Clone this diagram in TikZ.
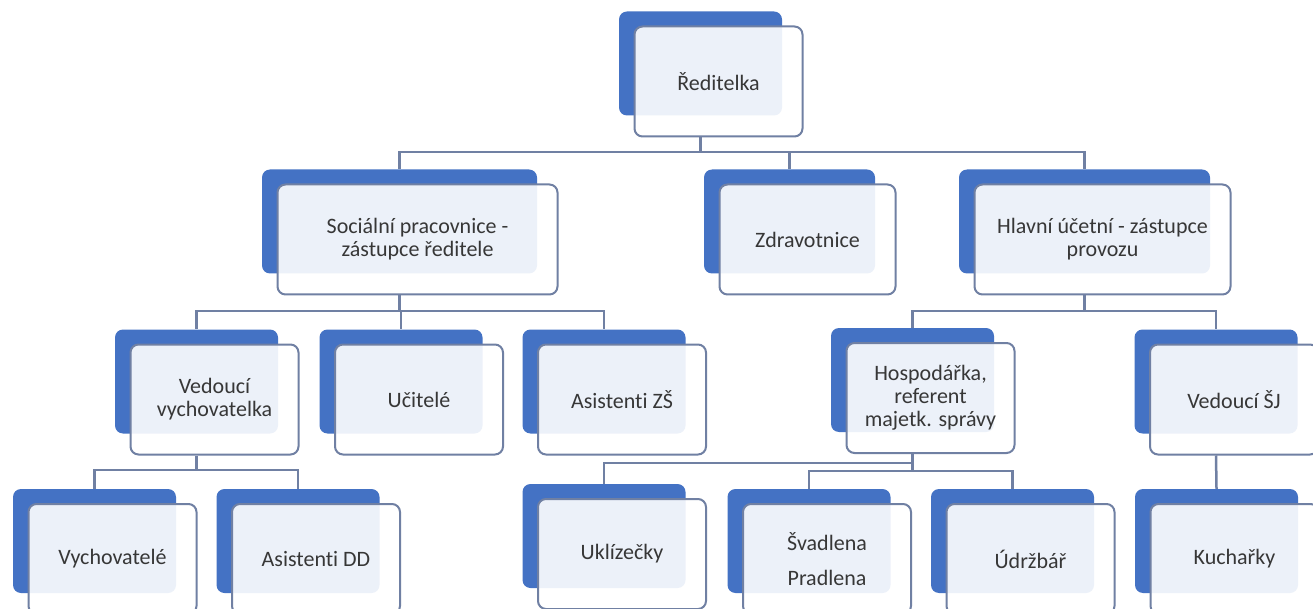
\documentclass[tikz,border=0pt]{standalone}
\usepackage{fontspec}
\setmainfont{Carlito}[Ligatures=NoCommon]
\usepackage{xcolor}
\usepackage{tikz}
\definecolor{orgblue}{RGB}{68,114,196}
\definecolor{orgline}{RGB}{112,128,163}
\definecolor{orgtext}{RGB}{55,55,55}
\tikzstyle{backbox} = [rectangle, rounded corners=8pt, minimum width=163pt, minimum height=104pt, inner sep=0pt, fill=orgblue]
\tikzstyle{frontbox} = [rectangle, rounded corners=8pt, minimum width=168pt, minimum height=110pt, inner sep=0pt, align=center, draw=orgline, line width=2pt, fill=white, fill opacity=0.9, text opacity=1, text=orgtext, font=\fontsize{22}{23}\selectfont, xshift=18pt, yshift=-18pt]
\tikzstyle{connector} = [draw=orgline, line width=2.5pt]

\begin{document}
\begin{tikzpicture}[x=1pt, y=-1pt]

\useasboundingbox (0,0) rectangle (1313,609);
\clip (0,0) rectangle (1313,609);
\fill [white] (0,0) rectangle (1313,609);

% top
\node (dir-b) [backbox] at (700.5,63.5) {};
\node (dir) [frontbox] at (dir-b) {Ředitelka};

% second row
\node (soc-b) [backbox, minimum width=275pt] at (399.5,221.5) {};
\node (soc) [frontbox, minimum width=280pt] at (soc-b) {Sociální pracovnice -\\zástupce ředitele};
\node (zdr-b) [backbox, minimum width=171pt] at (789.5,221.5) {};
\node (zdr) [frontbox, minimum width=176pt] at (zdr-b) {Zdravotnice};
\node (hla-b) [backbox, minimum width=251pt] at (1084.5,221.5) {};
\node (hla) [frontbox, minimum width=256pt] at (hla-b) {Hlavní účetní - zástupce\\provozu};

% third row
\node (ved-b) [backbox] at (196.5,381.5) {};
\node (ved) [frontbox] at (ved-b) {Vedoucí\\vychovatelka};
\node (uci-b) [backbox] at (401,381.5) {};
\node (uci) [frontbox] at (uci-b) {Učitelé};
\node (azs-b) [backbox] at (604,381.5) {};
\node (azs) [frontbox] at (azs-b) {Asistenti ZŠ};
\node (hos-b) [backbox] at (912.5,380) {};
\node (hos) [frontbox] at (hos-b) {Hospodářka,\\referent\\majetk. správy};
\node (sj-b) [backbox] at (1216,381.5) {};
\node (sj) [frontbox] at (sj-b) {Vedoucí ŠJ};

% bottom row
\node (vyc-b) [backbox] at (94.5,541) {};
\node (vyc) [frontbox] at (vyc-b) {Vychovatelé};
\node (add-b) [backbox] at (298,541) {};
\node (add) [frontbox] at (add-b) {Asistenti DD};
\node (ukl-b) [backbox] at (604,536) {};
\node (ukl) [frontbox] at (ukl-b) {Uklízečky};
\node (sva-b) [backbox] at (809,541) {};
\node (sva) [frontbox] at (sva-b) {Švadlena\\[12pt]Pradlena};
\node (udr-b) [backbox] at (1012.5,541) {};
\node (udr) [frontbox] at (udr-b) {Údržbář};
\node (kuc-b) [backbox] at (1216.5,541) {};
\node (kuc) [frontbox] at (kuc-b) {Kuchařky};

% bus lines
\coordinate (bus1) at (0,152);
\coordinate (bus2) at (0,311);
\coordinate (bus3) at (0,470);
\coordinate (bus4) at (0,463);
\coordinate (bus5) at (0,471);

\draw [connector] (dir.south -| dir-b) -- (dir-b |- bus1) -| (soc-b.north);
\draw [connector] (dir-b |- bus1) -| (zdr-b.north);
\draw [connector] (dir-b |- bus1) -| (hla-b.north);

\draw [connector] (soc.south -| soc-b) -- (soc-b |- bus2) -| (ved-b.north);
\draw [connector] (soc-b |- bus2) -| (uci-b.north);
\draw [connector] (soc-b |- bus2) -| (azs-b.north);

\draw [connector] (hla.south -| hla-b) -- (hla-b |- bus2) -| (hos-b.north);
\draw [connector] (hla-b |- bus2) -| (sj-b.north);

\draw [connector] (ved.south -| ved-b) -- (ved-b |- bus3) -| (vyc-b.north);
\draw [connector] (ved-b |- bus3) -| (add-b.north);

\draw [connector] (hos.south -| hos-b) -- (hos-b |- bus5);
\draw [connector] (hos-b |- bus4) -| (ukl-b.north);
\draw [connector] (hos-b |- bus5) -| (sva-b.north);
\draw [connector] (hos-b |- bus5) -| (udr-b.north);

\draw [connector] (sj.south -| sj-b) -- (kuc-b.north);

\end{tikzpicture}
\end{document}
